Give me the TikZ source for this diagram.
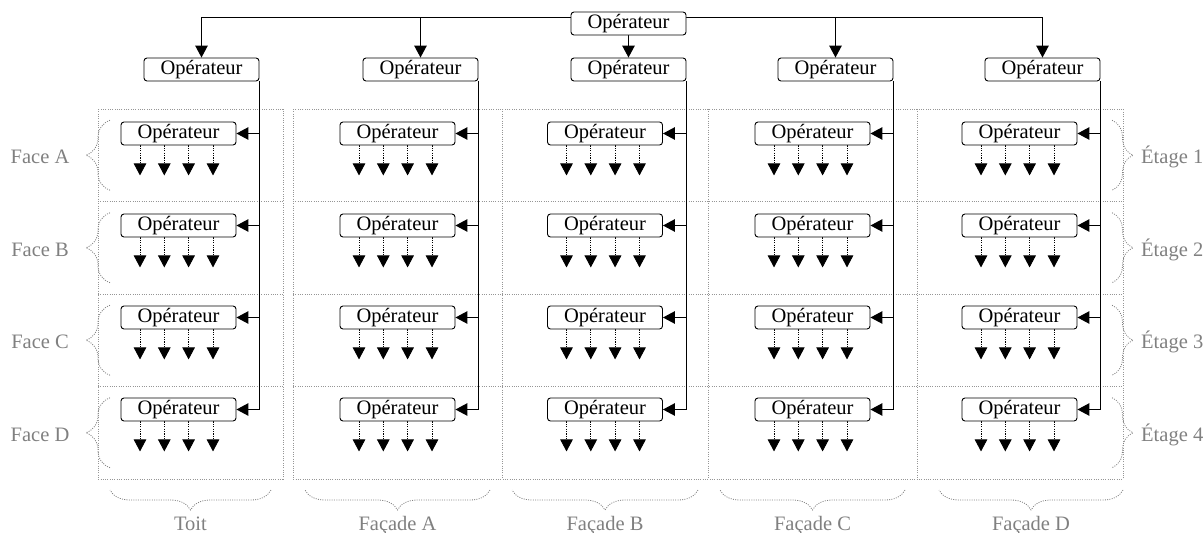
\documentclass[tikz,border=0pt]{standalone}
\usepackage{fontspec}
\setmainfont{Liberation Serif}
\usetikzlibrary{arrows.meta,decorations.pathreplacing,calc}
\pgfdeclarelayer{bg}
\pgfsetlayers{bg,main}
\definecolor{lblgray}{RGB}{128,128,128}
\definecolor{gridgray}{RGB}{150,150,150}
\begin{document}
\begin{tikzpicture}[x=1pt,y=-1pt,
  op/.style={draw,line width=0.9pt,rounded corners=3pt,fill=white,minimum width=115pt,minimum height=23pt,inner sep=0pt,font=\fontsize{20.5}{24}\selectfont},
  conn/.style={line width=1.2pt,-{Triangle[width=12.5pt,length=12pt]}},
  dconn/.style={line width=0.9pt,dash pattern=on 1.2pt off 1.2pt,-{Triangle[width=12.5pt,length=12pt]}},
  grid/.style={draw=gridgray,line width=0.8pt,dash pattern=on 1pt off 1.3pt},
  brc/.style={draw=lblgray,line width=0.8pt,dash pattern=on 1pt off 1.3pt,decorate},
  lbl/.style={text=lblgray,font=\fontsize{20.5}{24}\selectfont,inner sep=0pt}
]
\useasboundingbox (0,0) rectangle (1203,533);

% top operator and level-2 operators
\node[op] (top) at (628.5,23.5) {Opérateur};
\node[op] (L1) at (201.5,69.5) {Opérateur};
\node[op] (L2) at (420.5,69.5) {Opérateur};
\node[op] (L3) at (628.5,69.5) {Opérateur};
\node[op] (L4) at (835.5,69.5) {Opérateur};
\node[op] (L5) at (1042.5,69.5) {Opérateur};

% row operators
\foreach \c/\x in {1/178.5,2/397.5,3/605,4/812.5,5/1019.5}{
  \foreach \r/\y in {1/133.5,2/225.5,3/317.5,4/409.5}{
    \node[op] (R\c\r) at (\x,\y) {Opérateur};
  }
}

\begin{pgfonlayer}{bg}
  % grid
  \draw[grid] (98,109) rectangle (283,479);
  \draw[grid] (293,109) rectangle (1123,479);
  \foreach \y in {201.5,294,386.5}{
    \draw[grid] (98,\y) -- (283,\y);
    \draw[grid] (293,\y) -- (1123,\y);
  }
  \foreach \x in {502,708,917}{
    \draw[grid] (\x,109) -- (\x,479);
  }
  % top connectors
  \draw[conn] ([yshift=6pt]top.west) -| (L1);
  \draw[conn] ([yshift=6pt]top.west) -| (L2);
  \draw[conn] ([yshift=6pt]top.east) -| (L4);
  \draw[conn] ([yshift=6pt]top.east) -| (L5);
  \draw[conn] (top) -- (L3);
  % level-2 to rows
  \foreach \c in {1,...,5}{
    \foreach \r in {1,...,4}{
      \draw[conn] (L\c.east |- L\c.south) |- (R\c\r.east);
      \foreach \o in {-38.5,-14.2,10.1,34.5}{
        \draw[dconn] ([xshift=\o pt]R\c\r.south) -- ++(0,30);
      }
    }
  }
\end{pgfonlayer}

% left braces and labels
\foreach \n/\y in {A/155.25,B/247.75,C/340.25,D/432.75}{
  \draw[brc,decoration={brace,amplitude=24pt}] (110,\y+35) -- (110,\y-35);
  \node[lbl] (F\n) at (40,\y+2) {Face \n};
}
% right braces and labels
\foreach \n/\y in {1/155.25,2/247.75,3/340.25,4/432.75}{
  \draw[brc,decoration={brace,amplitude=21pt}] (1112,\y-35) -- (1112,\y+35);
  \node[lbl,anchor=west] (E\n) at (1141,\y+2) {Étage \n};
}
% bottom braces and labels
\foreach \a/\b/\t/\k in {110/271/Toit/T,305/490/Façade A/A,512/698/Façade B/B,720/905/Façade C/C,939/1123/Façade D/D}{
  \draw[brc,decoration={brace,amplitude=20pt}] (\b,490) -- (\a,490);
  \node[lbl,anchor=base] (B\k) at ({(\a+\b)/2},530) {\t};
}
\end{tikzpicture}
\end{document}
